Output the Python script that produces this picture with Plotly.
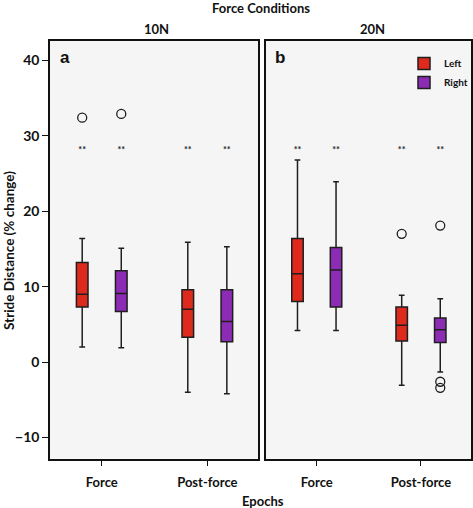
import plotly.graph_objects as go

# ---- data ----
epochs = ["Force", "Post-force"]
conditions = ["10N", "20N"]
sides = ["Left", "Right"]

# box statistics per condition/side, one value per epoch
stats = {
    ("10N", "Left"):  dict(upper=[16.4, 15.9], q3=[13.2, 9.6], med=[9.0, 7.0], q1=[7.3, 3.3], lower=[2.0, -4.0]),
    ("10N", "Right"): dict(upper=[15.1, 15.3], q3=[12.1, 9.6], med=[9.1, 5.4], q1=[6.7, 2.7], lower=[1.9, -4.2]),
    ("20N", "Left"):  dict(upper=[26.8, 8.85], q3=[16.4, 7.3], med=[11.7, 4.9], q1=[8.05, 2.8], lower=[4.2, -3.05]),
    ("20N", "Right"): dict(upper=[23.9, 8.4], q3=[15.2, 5.85], med=[12.2, 4.3], q1=[7.3, 2.6], lower=[4.2, -1.3]),
}

# outliers: (condition, side, epoch, value)
out_cond = ["10N", "10N", "20N", "20N", "20N", "20N"]
out_side = ["Left", "Right", "Left", "Right", "Right", "Right"]
out_epoch = ["Force", "Force", "Post-force", "Post-force", "Post-force", "Post-force"]
out_value = [32.4, 32.9, 17.0, 18.1, -2.6, -3.4]

sig_label = "**"
sig_level = 28.0

y_ticks = [-10, 0, 10, 20, 30, 40]

# ---- styling ----
colors = {"Left": "#DE2A1C", "Right": "#8C2BB4"}
side_offset = {"Left": -0.185, "Right": 0.185}
box_width = 0.11
FONT = "Lato"

fig = go.Figure()

axes = {"10N": ("x", "y"), "20N": ("x2", "y2")}

for cond in conditions:
    xa, ya = axes[cond]
    for side in sides:
        s = stats[(cond, side)]
        xpos = [i + side_offset[side] for i in range(len(epochs))]
        fig.add_trace(go.Box(
            x=xpos, q1=s["q1"], median=s["med"], q3=s["q3"],
            lowerfence=s["lower"], upperfence=s["upper"],
            width=box_width, whiskerwidth=0.5, boxpoints=False,
            fillcolor=colors[side], line=dict(color="#1e1e1e", width=1.5),
            name=side, legendgroup=side, showlegend=(cond == "20N"),
            xaxis=xa, yaxis=ya, hoverinfo="skip",
        ))
        # significance markers
        fig.add_trace(go.Scatter(
            x=xpos, y=[sig_level] * len(xpos), mode="text",
            text=[sig_label] * len(xpos),
            textfont=dict(size=9, color="#222", family=FONT, weight="bold"),
            showlegend=False, xaxis=xa, yaxis=ya, hoverinfo="skip",
        ))

# outliers
for cond in conditions:
    xa, ya = axes[cond]
    xs, ys = [], []
    for c, sd, ep, v in zip(out_cond, out_side, out_epoch, out_value):
        if c == cond:
            xs.append(epochs.index(ep) + side_offset[sd])
            ys.append(v)
    fig.add_trace(go.Scatter(
        x=xs, y=ys, mode="markers",
        marker=dict(symbol="circle-open", size=9, color="#1e1e1e", line=dict(width=1.3)),
        showlegend=False, xaxis=xa, yaxis=ya, hoverinfo="skip",
    ))

W, H = 473, 508
ydom = [1 - 458.7 / H, 1 - 40.7 / H]
xdom_a = [50 / W, 258 / W]
xdom_b = [265.7 / W, 471 / W]

common_x = dict(
    range=[-0.49, 1.48], tickvals=[0, 1], ticktext=epochs,
    showline=True, mirror=True, linecolor="#111", linewidth=1.5,
    ticks="outside", ticklen=6, tickcolor="#111", showgrid=False, zeroline=False,
    ticklabelstandoff=5,
    tickfont=dict(family=FONT, size=13, color="#111", weight="bold"),
)
common_y = dict(
    range=[-12.8, 42.6], tickvals=y_ticks,
    showline=True, mirror=True, linecolor="#111", linewidth=1.5,
    showgrid=False, zeroline=False,
)

def label(text, x, y, size=13, family=FONT, angle=0, xanchor="center"):
    return dict(text=text, x=x / W, y=1 - y / H, xref="paper", yref="paper",
                xanchor=xanchor, yanchor="middle", textangle=angle, showarrow=False,
                font=dict(family=family, size=size, color="#111", weight="bold"))

fig.update_layout(
    width=W, height=H,
    margin=dict(l=0, r=0, t=0, b=0, autoexpand=False),
    paper_bgcolor="white",
    plot_bgcolor="#F5F5F5",
    showlegend=True,
    legend=dict(
        x=404 / W, y=1 - 49 / H, xanchor="left", yanchor="top",
        bgcolor="rgba(0,0,0,0)", font=dict(family=FONT, size=10, color="#111", weight="bold"),
        itemwidth=30, tracegroupgap=0,
    ),
    xaxis=dict(domain=xdom_a, anchor="y", **common_x),
    xaxis2=dict(domain=xdom_b, anchor="y2", **common_x),
    yaxis=dict(domain=ydom, anchor="x", ticks="outside", ticklen=6, tickcolor="#111",
               tickfont=dict(family=FONT, size=14, color="#111", weight="bold"), **common_y),
    yaxis2=dict(domain=ydom, anchor="x2", matches="y", showticklabels=False, ticks="", **common_y),
    annotations=[
        label("Force Conditions", 261, 8),
        label("10N", 156, 29),
        label("20N", 372, 29),
        label("a", 58, 57, size=17, family="Liberation Sans", xanchor="left"),
        label("b", 273, 57, size=17, family="Liberation Sans", xanchor="left"),
        label("Epochs", 263, 501),
        label("Stride Distance (% change)", 9, 251, size=13.5, angle=-90),
    ],
)

fig.write_html("out.html", config={"displayModeBar": False},
               post_script="document.body.style.margin='0px';document.body.style.overflow='hidden';")
